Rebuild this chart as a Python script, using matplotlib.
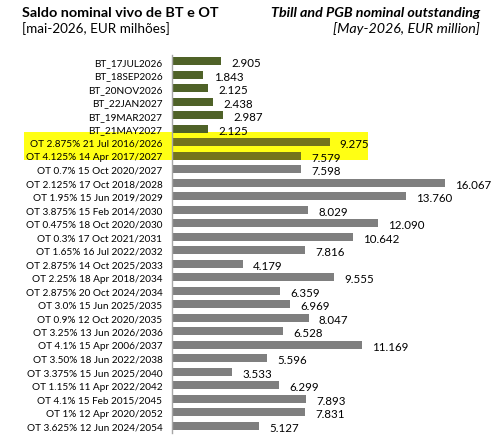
import numpy as np
import matplotlib
matplotlib.use("Agg")
import matplotlib.pyplot as plt
from matplotlib.patches import Rectangle

plt.rcParams['font.family'] = ['Lato', 'DejaVu Sans']

names = ['BT_17JUL2026', 'BT_18SEP2026', 'BT_20NOV2026', 'BT_22JAN2027',
         'BT_19MAR2027', 'BT_21MAY2027',
         'OT 2.875% 21 Jul 2016/2026', 'OT 4.125% 14 Apr 2017/2027',
         'OT 0.7% 15 Oct 2020/2027', 'OT 2.125% 17 Oct 2018/2028',
         'OT 1.95% 15 Jun 2019/2029', 'OT 3.875% 15 Feb 2014/2030',
         'OT 0.475% 18 Oct 2020/2030', 'OT 0.3% 17 Oct 2021/2031',
         'OT 1.65% 16 Jul 2022/2032', 'OT 2.875% 14 Oct 2025/2033',
         'OT 2.25% 18 Apr 2018/2034', 'OT 2.875% 20 Oct 2024/2034',
         'OT 3.0% 15 Jun 2025/2035', 'OT 0.9% 12 Oct 2020/2035',
         'OT 3.25% 13 Jun 2026/2036', 'OT 4.1% 15 Apr 2006/2037',
         'OT 3.50% 18 Jun 2022/2038', 'OT 3.375% 15 Jun 2025/2040',
         'OT 1.15% 11 Apr 2022/2042', 'OT 4.1% 15 Feb 2015/2045',
         'OT 1% 12 Apr 2020/2052', 'OT 3.625% 12 Jun 2024/2054']
values = [2.905, 1.843, 2.125, 2.438, 2.987, 2.125,
          9.275, 7.579, 7.598, 16.067, 13.760, 8.029, 12.090, 10.642,
          7.816, 4.179, 9.555, 6.359, 6.969, 8.047, 6.528, 11.169,
          5.596, 3.533, 6.299, 7.893, 7.831, 5.127]
highlighted = ['OT 2.875% 21 Jul 2016/2026', 'OT 4.125% 14 Apr 2017/2027']

bt_color = '#4f6228'
ot_color = '#7f7f7f'
hl_color = '#74741c'

colors = []
for n in names:
    if n in highlighted:
        colors.append(hl_color)
    elif n.startswith('BT'):
        colors.append(bt_color)
    else:
        colors.append(ot_color)

fig = plt.figure(figsize=(4.99, 4.39), dpi=100)
fig.patch.set_facecolor('white')

# yellow marker highlight behind the 2026/2027 OT rows
fig.patches.append(Rectangle((24 / 499, 1 - 160.5 / 439), 344 / 499, 28 / 439,
                             transform=fig.transFigure, facecolor='#ffff14',
                             edgecolor='none', zorder=0))

ax = fig.add_axes([172 / 499, 1 - 433.5 / 439, 306 / 499, 378 / 439])
ax.set_zorder(1)
ax.patch.set_alpha(0)
pos = np.arange(len(names))
bars = ax.barh(pos, values, height=0.62, color=colors)
ax.set_ylim(len(names) - 0.5, -0.5)
ax.set_xlim(0, 18)

for rect, v in zip(bars, values):
    ax.text(rect.get_width() + 0.6, rect.get_y() + rect.get_height() / 2 + 0.12,
            '%.3f' % v, ha='left', va='center', fontsize=8.3, color='black')

ax.set_yticks(pos)
ax.set_yticklabels(names, fontsize=7.2)
ax.tick_params(axis='y', length=0, pad=7)
ax.set_xticks([])
for side in ['top', 'right', 'bottom']:
    ax.spines[side].set_visible(False)
ax.spines['left'].set_color('#a6a6a6')
ax.spines['left'].set_linewidth(1.0)

fig.text(22 / 499, 1 - 13 / 439, 'Saldo nominal vivo de BT e OT',
         fontsize=10.4, fontweight='bold', ha='left', va='center')
fig.text(22 / 499, 1 - 29 / 439, '[mai-2026, EUR milhões]',
         fontsize=9.7, ha='left', va='center')
fig.text(480 / 499, 1 - 13 / 439, 'Tbill and PGB nominal outstanding',
         fontsize=10.3, fontweight='bold', style='italic', ha='right', va='center')
fig.text(480 / 499, 1 - 29 / 439, '[May-2026, EUR million]',
         fontsize=10.3, style='italic', ha='right', va='center')

fig.savefig('out.png', dpi=100)
